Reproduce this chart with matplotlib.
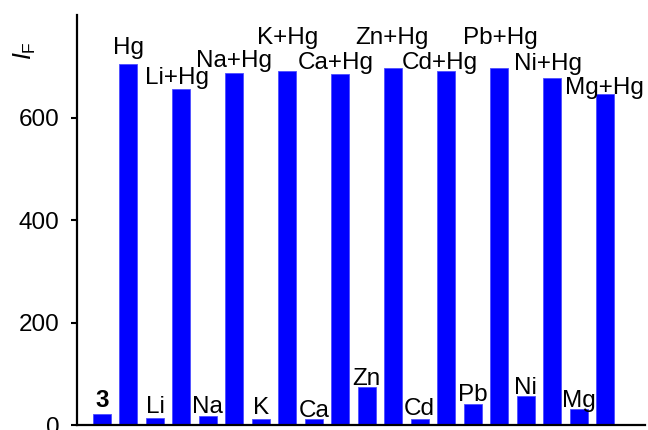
import matplotlib
matplotlib.use('Agg')
import matplotlib.pyplot as plt
import numpy as np

plt.rcParams['font.family'] = ['Liberation Sans', 'DejaVu Sans']
plt.rcParams['mathtext.fontset'] = 'custom'
plt.rcParams['mathtext.rm'] = 'Liberation Sans'
plt.rcParams['mathtext.it'] = 'Liberation Sans:italic'

# Fluorescence intensity of 3 alone, with each metal, and with metal + Hg
labels = ['3', 'Hg', 'Li', 'Li+Hg', 'Na', 'Na+Hg', 'K', 'K+Hg', 'Ca', 'Ca+Hg',
          'Zn', 'Zn+Hg', 'Cd', 'Cd+Hg', 'Pb', 'Pb+Hg', 'Ni', 'Ni+Hg', 'Mg', 'Mg+Hg']
intensity = [22, 704, 14, 656, 17, 687, 11, 690, 11, 684,
             74, 696, 11, 690, 41, 697, 56, 678, 32, 646]
yticks = [0, 200, 400, 600]

# label placement above each bar (pixels: dx, dy)
label_shift = [(0, 7), (0, 10), (0, 5), (-4.5, 4.5), (0, 3), (0, 6), (0, 5.5), (0, 27),
               (0, 2.5), (-5, 5), (0, 2), (-1, 24), (0, 4), (-6.5, 2), (0, 2.5),
               (1.5, 23.5), (0, 2), (-4, 8), (0, 2), (-1, 0)]

fig = plt.figure(figsize=(6.48, 4.30), dpi=100)
ax = fig.add_axes([77 / 648, 5 / 430, 568 / 648, 410 / 430])

x = np.arange(len(labels))
ax.bar(x, intensity, width=0.68, color='#0000ff', edgecolor='#4d4dff', linewidth=0.6)

for xi, val, lab, (dx, dy) in zip(x, intensity, labels, label_shift):
    ax.annotate(lab, xy=(xi, val), xytext=(dx, dy), textcoords='offset pixels',
                ha='center', va='baseline', fontsize=17.5,
                fontweight='bold' if lab == '3' else 'normal')

ax.set_xlim(-0.944, 20.51)
ax.set_ylim(0, 800)
ax.set_xticks([])
ax.set_yticks(yticks)
ax.tick_params(axis='y', direction='out', length=4.5, width=1.5, labelsize=17.5, pad=8)

for side in ['top', 'right']:
    ax.spines[side].set_visible(False)
for side in ['left', 'bottom']:
    ax.spines[side].set_linewidth(1.6)
    ax.spines[side].set_color('black')

fig.text(25 / 648, 1 - 51 / 430, r'$I_{\mathrm{F}}$', rotation=90, fontsize=18,
         ha='center', va='center')

fig.savefig('out.png', dpi=100)
